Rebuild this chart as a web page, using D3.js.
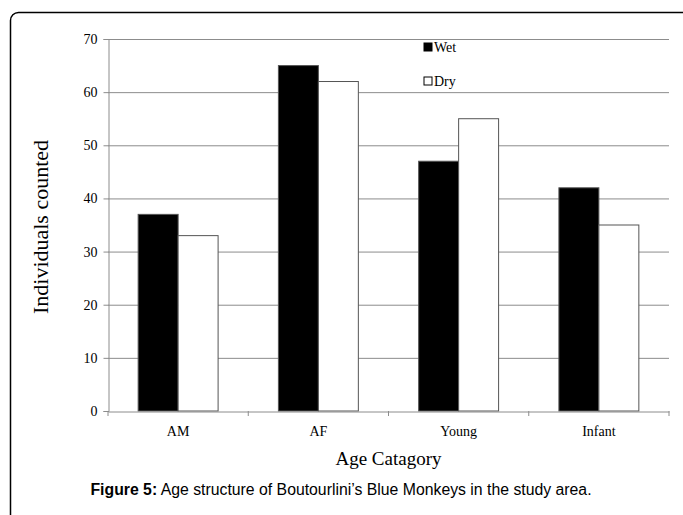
<!DOCTYPE html>
<html>
<head>
<meta charset="utf-8">
<script src="https://cdn.jsdelivr.net/npm/d3@7"></script>
<style>
  body { margin: 0; background: #fff; }
  svg { display: block; }
</style>
</head>
<body>
<svg id="chart" width="683" height="515"></svg>
<script>
const categories = ["AM", "AF", "Young", "Infant"];
const seriesNames = ["Wet", "Dry"];
const wetValues = [37, 65, 47, 42];
const dryValues = [33, 62, 55, 35];
const yTicks = [0, 10, 20, 30, 40, 50, 60, 70];

const svg = d3.select("#chart");

// outer frame, runs off the right and bottom edges
svg.append("rect")
  .attr("x", 10.5).attr("y", 12.5)
  .attr("width", 720).attr("height", 560)
  .attr("rx", 8)
  .attr("fill", "none")
  .attr("stroke", "#000")
  .attr("stroke-width", 1.5);

const plotLeft = 108, plotRight = 669, plotTop = 39, plotBottom = 411;

const x0 = d3.scaleBand().domain(categories).range([plotLeft, plotRight]).padding(0);
const x1 = d3.scaleBand().domain(seriesNames)
  .range([x0.bandwidth() * 0.215, x0.bandwidth() * 0.785]).padding(0);
const y = d3.scaleLinear().domain([0, 70]).range([plotBottom, plotTop]);

// gridlines
svg.append("g")
  .selectAll("line")
  .data(yTicks.filter(d => d > 0))
  .join("line")
  .attr("x1", plotLeft).attr("x2", plotRight)
  .attr("y1", d => y(d) + 0.5).attr("y2", d => y(d) + 0.5)
  .attr("stroke", "#8c8c8c")
  .attr("stroke-width", 1);

const rows = categories.map((c, i) => ({ cat: c, Wet: wetValues[i], Dry: dryValues[i] }));

const groups = svg.append("g")
  .selectAll("g")
  .data(rows)
  .join("g")
  .attr("transform", d => `translate(${x0(d.cat)},0)`);

groups.selectAll("rect")
  .data(d => seriesNames.map(s => ({ s, v: d[s] })))
  .join("rect")
  .attr("x", d => x1(d.s))
  .attr("y", d => y(d.v))
  .attr("width", x1.bandwidth())
  .attr("height", d => y(0) - y(d.v))
  .attr("fill", d => d.s === "Wet" ? "#000" : "#fff")
  .attr("stroke", "#555")
  .attr("stroke-width", 1);

// y axis
const yAxis = svg.append("g")
  .attr("transform", `translate(${plotLeft + 0.5},0)`)
  .call(d3.axisLeft(y).tickValues(yTicks).tickSize(5).tickPadding(6));
yAxis.select(".domain").attr("stroke", "#8c8c8c");
yAxis.selectAll(".tick line").attr("stroke", "#8c8c8c");
yAxis.selectAll("text")
  .attr("font-family", "Liberation Serif, serif")
  .attr("font-size", 14)
  .attr("fill", "#000");

// x axis
const xAxis = svg.append("g")
  .attr("transform", `translate(0,${plotBottom + 0.5})`)
  .call(d3.axisBottom(x0).tickSize(0).tickPadding(15));
xAxis.select(".domain").attr("stroke", "#8c8c8c");
xAxis.selectAll("text")
  .attr("font-family", "Liberation Serif, serif")
  .attr("font-size", 14)
  .attr("fill", "#000");
svg.append("g")
  .selectAll("line")
  .data(categories.concat(["end"]))
  .join("line")
  .attr("x1", (d, i) => i < categories.length ? x0(d) : plotRight)
  .attr("x2", (d, i) => i < categories.length ? x0(d) : plotRight)
  .attr("y1", plotBottom).attr("y2", plotBottom + 5)
  .attr("stroke", "#8c8c8c");

// axis titles
svg.append("text")
  .attr("transform", `translate(48,${(plotTop + plotBottom) / 2 + 2}) rotate(-90)`)
  .attr("text-anchor", "middle")
  .attr("font-family", "Liberation Serif, serif")
  .attr("font-size", 22)
  .text("Individuals counted");

svg.append("text")
  .attr("x", (plotLeft + plotRight) / 2).attr("y", 465)
  .attr("text-anchor", "middle")
  .attr("font-family", "Liberation Serif, serif")
  .attr("font-size", 19)
  .text("Age Catagory");

// legend
const legend = svg.append("g")
  .selectAll("g")
  .data(seriesNames)
  .join("g")
  .attr("transform", (d, i) => `translate(424,${43 + i * 34})`);
legend.append("rect")
  .attr("width", 8).attr("height", 8)
  .attr("fill", d => d === "Wet" ? "#000" : "#fff")
  .attr("stroke", "#000")
  .attr("stroke-width", 1);
legend.append("text")
  .attr("x", 10).attr("y", 8.5)
  .attr("font-family", "Liberation Serif, serif")
  .attr("font-size", 14)
  .text(d => d);

// caption
const cap = svg.append("text")
  .attr("x", 341).attr("y", 495)
  .attr("text-anchor", "middle")
  .attr("font-family", "Liberation Sans, Arial, sans-serif")
  .attr("font-size", 15.8);
cap.append("tspan").attr("font-weight", "bold").text("Figure 5:");
cap.append("tspan").text(" Age structure of Boutourlini’s Blue Monkeys in the study area.");
</script>
</body>
</html>
